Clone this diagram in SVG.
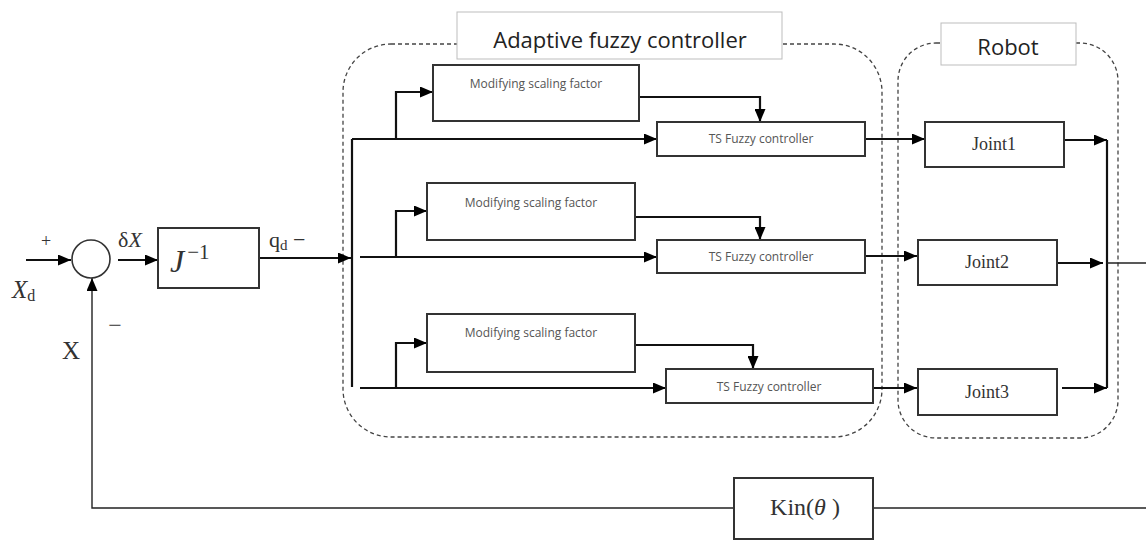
<svg xmlns="http://www.w3.org/2000/svg" width="1146" height="560" viewBox="0 0 1146 560">
<defs>
<style>
.blk{fill:#fff;stroke:#333;stroke-width:2}
.dash{fill:none;stroke:#444;stroke-width:1.3;stroke-dasharray:4 3}
.ttl{fill:#fff;stroke:#bdbdbd;stroke-width:1}
.ln{fill:none;stroke:#111;stroke-width:2.2}
.thin{fill:none;stroke:#222;stroke-width:1.4}
.sans{font-family:"Open Sans","Liberation Sans",sans-serif;fill:#555;font-size:12px;text-anchor:middle}
.big{font-family:"Open Sans","Liberation Sans",sans-serif;fill:#222;font-size:22px;text-anchor:middle}
.ser{font-family:"Liberation Serif","DejaVu Serif",serif;fill:#333}
</style>
<marker id="ah" markerUnits="userSpaceOnUse" markerWidth="13" markerHeight="11" refX="13" refY="5.5" orient="auto">
<path d="M0,0 L13,5.5 L0,11 z" fill="#000"/>
</marker>
</defs>
<rect width="1146" height="560" fill="#fff"/>

<g id="adaptive-group">
<rect class="dash" x="343" y="44" width="539" height="393" rx="48" ry="48"/>
<rect class="ttl" x="457" y="12" width="325" height="47"/>
<text class="big" x="620" y="48">Adaptive fuzzy controller</text>
</g>
<g id="robot-group">
<rect class="dash" x="898" y="43" width="220" height="395" rx="38" ry="38"/>
<rect class="ttl" x="941" y="23" width="135" height="42"/>
<text class="big" x="1008" y="55">Robot</text>
</g>

<g id="connectors">
<path class="ln" d="M26,260 H71" marker-end="url(#ah)"/>
<path class="thin" d="M735,508 H92 V278" marker-end="url(#ah)"/>
<path class="thin" d="M873,508 H1146"/>
<path class="ln" d="M118,260 H158" marker-end="url(#ah)"/>
<path class="ln" d="M259,258 H351" marker-end="url(#ah)"/>
<path class="ln" d="M352,139 V387"/>
<path class="ln" d="M352,139 H657" marker-end="url(#ah)"/>
<path class="ln" d="M396,139 V92 H433" marker-end="url(#ah)"/>
<path class="ln" d="M639,97 H760 V122" marker-end="url(#ah)"/>
<path class="ln" d="M360,257 H657" marker-end="url(#ah)"/>
<path class="ln" d="M396,257 V211 H427" marker-end="url(#ah)"/>
<path class="ln" d="M635,217 H760 V240" marker-end="url(#ah)"/>
<path class="ln" d="M360,388 H666" marker-end="url(#ah)"/>
<path class="ln" d="M396,388 V343 H427" marker-end="url(#ah)"/>
<path class="ln" d="M635,345 H753 V369" marker-end="url(#ah)"/>
<path class="ln" d="M865,139 H925" marker-end="url(#ah)"/>
<path class="ln" d="M865,256 H917" marker-end="url(#ah)"/>
<path class="ln" d="M873,388 H917" marker-end="url(#ah)"/>
<path class="ln" d="M1064,140 H1107" marker-end="url(#ah)"/>
<path class="ln" d="M1057,263 H1103" marker-end="url(#ah)"/>
<path class="ln" d="M1062,388 H1107" marker-end="url(#ah)"/>
<path class="ln" d="M1107,140 V388"/>
<path class="thin" d="M1107,263 H1146"/>
</g>

<g id="sum">
<circle cx="91" cy="259" r="19" fill="#fff" stroke="#333" stroke-width="1.6"/>
<text class="ser" x="46" y="247" font-size="18" text-anchor="middle" fill="#444">+</text>
<text class="ser" x="115" y="333" font-size="24" text-anchor="middle" fill="#555">−</text>
<text class="ser" x="12" y="298" font-size="25" font-style="italic">X<tspan font-style="normal" font-size="16" dy="3">d</tspan></text>
<text class="ser" x="62" y="359" font-size="25">X</text>
<text class="ser" x="118" y="247" font-size="22">δ<tspan font-style="italic">X</tspan></text>
</g>

<g id="jinv">
<rect class="blk" x="158" y="228" width="101" height="60"/>
<text class="ser" x="170" y="272" font-size="32" font-style="italic" fill="#222">J<tspan font-style="normal" font-size="21" dx="3" dy="-13">−1</tspan></text>
<text class="ser" x="269" y="247" font-size="22">q<tspan font-size="15" dy="3">d</tspan><tspan dy="-3"> −</tspan></text>
</g>

<g id="msf1"><rect class="blk" x="433" y="65" width="206" height="56"/><text class="sans" x="536" y="88">Modifying scaling factor</text></g>
<g id="msf2"><rect class="blk" x="427" y="183" width="208" height="57"/><text class="sans" x="531" y="207">Modifying scaling factor</text></g>
<g id="msf3"><rect class="blk" x="427" y="314" width="208" height="58"/><text class="sans" x="531" y="337">Modifying scaling factor</text></g>

<g id="ts1"><rect class="blk" x="657" y="122" width="208" height="34"/><text class="sans" x="761" y="143">TS Fuzzy controller</text></g>
<g id="ts2"><rect class="blk" x="657" y="240" width="208" height="33"/><text class="sans" x="761" y="261">TS Fuzzy controller</text></g>
<g id="ts3"><rect class="blk" x="666" y="369" width="207" height="34"/><text class="sans" x="769" y="391">TS Fuzzy controller</text></g>

<g id="joint1"><rect class="blk" x="925" y="122" width="139" height="45"/><text class="ser" x="994" y="150" font-size="18" text-anchor="middle">Joint1</text></g>
<g id="joint2"><rect class="blk" x="918" y="240" width="139" height="45"/><text class="ser" x="987" y="268" font-size="18" text-anchor="middle">Joint2</text></g>
<g id="joint3"><rect class="blk" x="918" y="369" width="139" height="46"/><text class="ser" x="987" y="398" font-size="18" text-anchor="middle">Joint3</text></g>

<g id="kin">
<rect class="blk" x="734" y="478" width="139" height="61"/>
<text class="ser" x="805" y="515" font-size="24" text-anchor="middle" fill="#222">Kin(<tspan font-style="italic">θ</tspan> )</text>
</g>
</svg>
